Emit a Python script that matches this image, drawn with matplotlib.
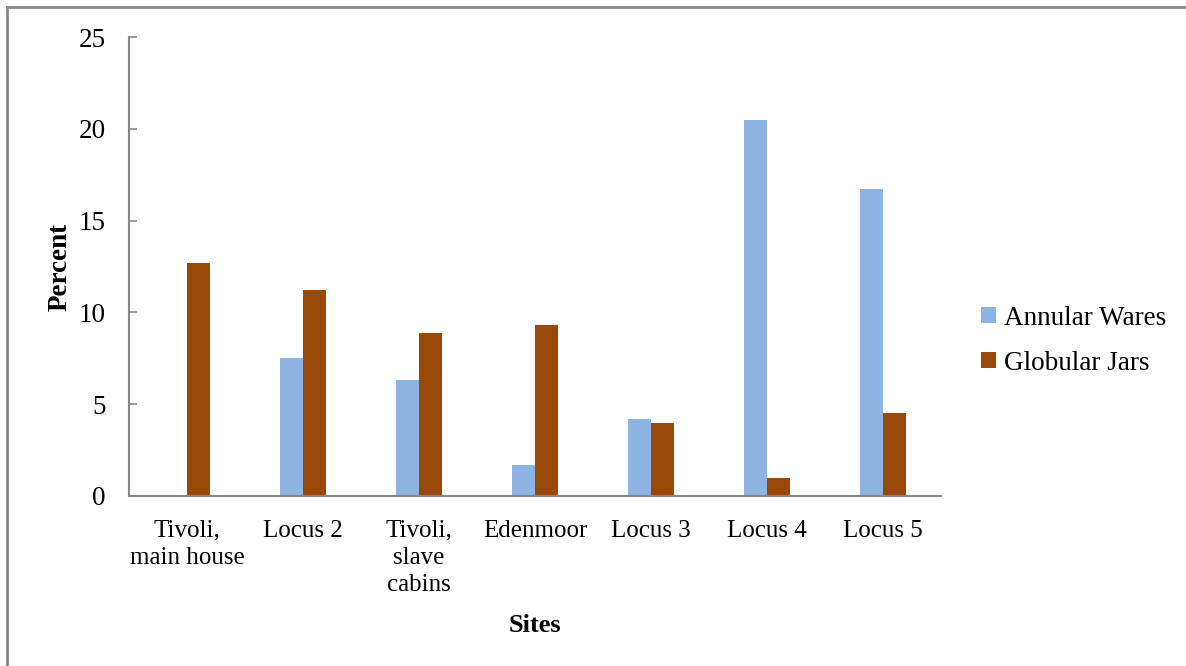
import numpy as np
import matplotlib
matplotlib.use("Agg")
from matplotlib import pyplot as plt
from matplotlib.lines import Line2D

# data
sites = ["Tivoli,\nmain house", "Locus 2", "Tivoli,\nslave\ncabins", "Edenmoor",
         "Locus 3", "Locus 4", "Locus 5"]
annular_wares = [0.0, 7.5, 6.3, 1.7, 4.2, 20.5, 16.7]
globular_jars = [12.7, 11.2, 8.9, 9.3, 4.0, 1.0, 4.5]
y_ticks = [0, 5, 10, 15, 20, 25]

plt.rcParams['font.family'] = ['Liberation Serif', 'DejaVu Serif']
gray = "#868686"

fig = plt.figure(figsize=(11.86, 6.66), dpi=100)
ax = fig.add_axes([0.1088, 0.2553, 0.6846, 0.6891])

x = np.arange(len(sites))
w = 0.2
ax.bar(x - w / 2, annular_wares, w, color="#8EB4E3", label="Annular Wares")
ax.bar(x + w / 2, globular_jars, w, color="#984807", label="Globular Jars")

ax.set_xlim(-0.5, len(sites) - 0.5)
ax.set_ylim(0, 25)
ax.set_yticks(y_ticks)
ax.set_xticks(x)
ax.set_xticklabels(sites, fontsize=18, linespacing=1.3)
ax.tick_params(axis='y', direction='in', length=6, width=1.2, color=gray,
               labelsize=19.5, pad=17)
ax.tick_params(axis='x', length=0, pad=17)

for side in ["top", "right"]:
    ax.spines[side].set_visible(False)
for side in ["left", "bottom"]:
    ax.spines[side].set_color(gray)
    ax.spines[side].set_linewidth(1.5)

ax.set_ylabel("Percent", fontsize=19.5, fontweight="bold", labelpad=4)
ax.set_xlabel("Sites", fontsize=19, fontweight="bold", labelpad=13)

ax.legend(loc="center left", bbox_to_anchor=(0.807, 0.4885),
          bbox_transform=fig.transFigure, frameon=False, fontsize=19.5,
          handlelength=0.55, handleheight=0.55, handletextpad=0.3,
          labelspacing=0.75)

# outer chart frame (left and top edges only visible)
fig.add_artist(Line2D([0.0055, 0.0055], [0, 0.9895], transform=fig.transFigure,
                      color=gray, lw=2))
fig.add_artist(Line2D([0.0055, 1.0], [0.9895, 0.9895], transform=fig.transFigure,
                      color=gray, lw=2))

fig.savefig("out.png", dpi=100)
